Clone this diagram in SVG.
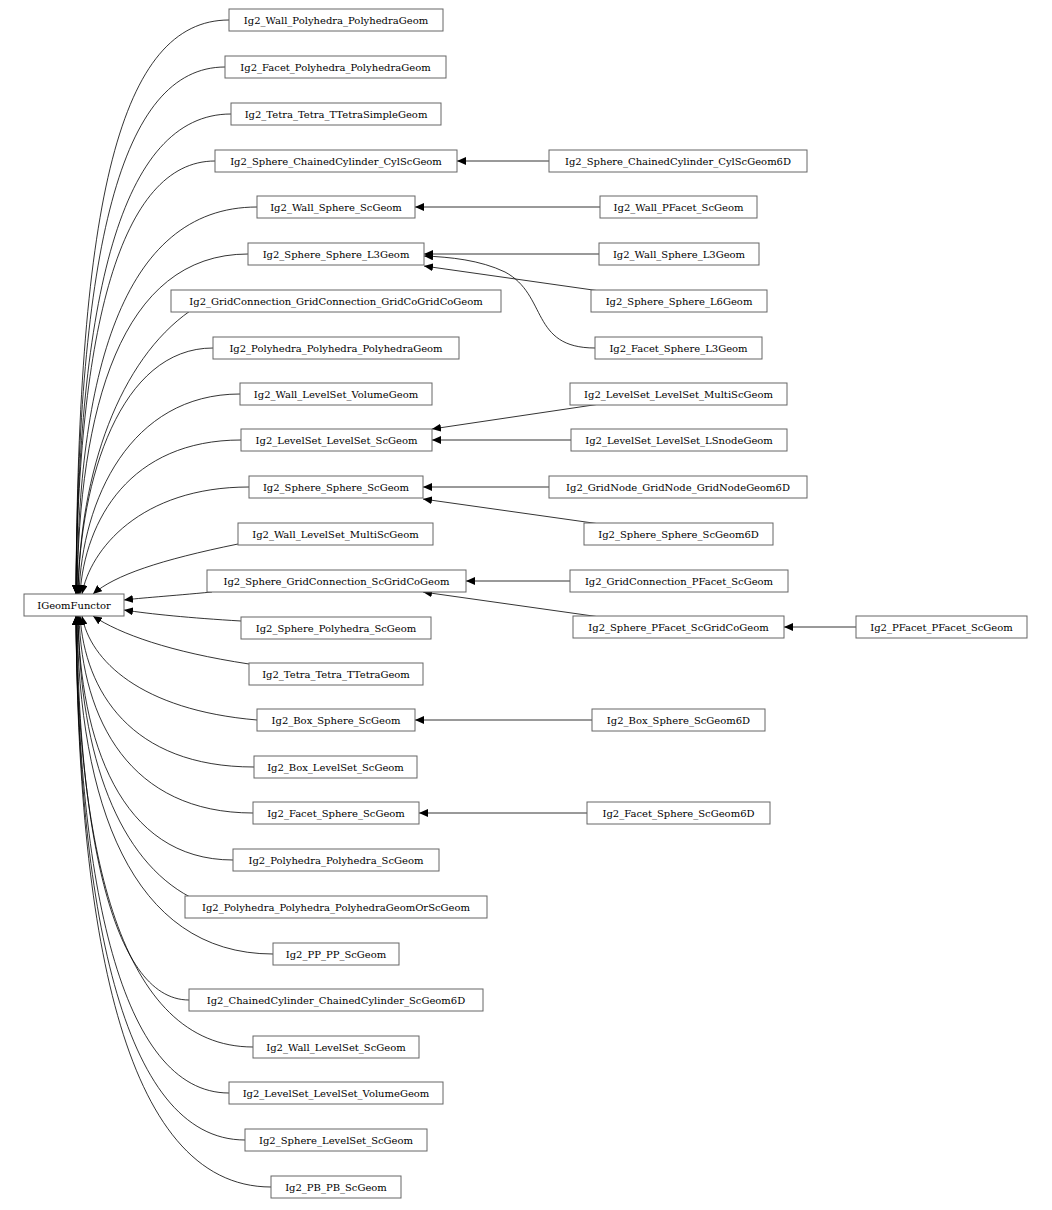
<svg xmlns="http://www.w3.org/2000/svg" width="1052" height="1210" viewBox="0 0 1052 1210">
<style>
.n rect{fill:#fff;stroke:#666;stroke-width:1}
.n text{font-family:"DejaVu Serif",serif;font-size:10px;text-anchor:middle;fill:#000}
#edges path{fill:none;stroke:#000;stroke-width:0.8;marker-end:url(#a)}
</style>
<defs><marker id="a" markerUnits="userSpaceOnUse" markerWidth="10" markerHeight="8" refX="9" refY="4" orient="auto"><path d="M0,0L9,4L0,8z" fill="#000"/></marker></defs>
<rect width="1052" height="1210" fill="#fff"/>
<g id="edges">
<path d="M229,20 C120,20 78,200 76,594"/>
<path d="M225,67 C120,67 78,250 76,594"/>
<path d="M231,114 C120,114 78,300 76,594"/>
<path d="M215,161 C120,161 78,330 76,594"/>
<path d="M257,207 C120,207 78,380 77,594"/>
<path d="M248,254 C120,254 79,410 77,594"/>
<path d="M190,311 C120,360 80,470 78,594"/>
<path d="M213,348 C120,348 80,480 78,594"/>
<path d="M240,394 C130,394 82,500 79,594"/>
<path d="M241,440 C130,440 85,520 80,594"/>
<path d="M249,487 C140,487 90,550 82,594"/>
<path d="M238,544 C160,560 115,575 93,594"/>
<path d="M212,592 C170,596 140,598 124,600"/>
<path d="M241,621 C190,618 150,614 124,610"/>
<path d="M249,664 C170,652 120,634 93,616"/>
<path d="M257,720 C140,710 90,660 82,616"/>
<path d="M254,767 C130,767 85,690 80,616"/>
<path d="M253,813 C130,813 82,720 79,616"/>
<path d="M233,860 C120,860 80,740 78,616"/>
<path d="M190,897 C120,860 80,760 78,616"/>
<path d="M273,954 C130,954 79,800 77,616"/>
<path d="M189,1000 C110,1000 78,820 77,616"/>
<path d="M253,1047 C120,1047 78,850 76,616"/>
<path d="M229,1093 C120,1093 78,880 76,616"/>
<path d="M245,1140 C120,1140 78,900 76,616"/>
<path d="M271,1187 C120,1187 78,920 76,616"/>
<path d="M549,161 L457,161"/>
<path d="M600,207 L415,207"/>
<path d="M599,254 L424,254"/>
<path d="M600,291 L424,266"/>
<path d="M595,348 C530,348 548,295 505,272 C480,260 450,257 424,256"/>
<path d="M600,404 L432,429"/>
<path d="M571,440 L432,440"/>
<path d="M549,487 L423,487"/>
<path d="M600,524 L423,499"/>
<path d="M570,581 L466,581"/>
<path d="M600,617 L423,592"/>
<path d="M856,627 L784,627"/>
<path d="M592,720 L415,720"/>
<path d="M587,813 L419,813"/>
</g>
<g id="IGeomFunctor" class="n"><rect x="24" y="594" width="100" height="22"/><text x="74" y="609">IGeomFunctor</text></g>
<g id="n1" class="n"><rect x="229" y="9" width="214" height="22"/><text x="336" y="24">Ig2_Wall_Polyhedra_PolyhedraGeom</text></g>
<g id="n2" class="n"><rect x="225" y="56" width="221" height="22"/><text x="335.5" y="71">Ig2_Facet_Polyhedra_PolyhedraGeom</text></g>
<g id="n3" class="n"><rect x="231" y="103" width="210" height="22"/><text x="336" y="118">Ig2_Tetra_Tetra_TTetraSimpleGeom</text></g>
<g id="n4" class="n"><rect x="215" y="150" width="242" height="22"/><text x="336" y="165">Ig2_Sphere_ChainedCylinder_CylScGeom</text></g>
<g id="n5" class="n"><rect x="257" y="196" width="158" height="22"/><text x="336" y="211">Ig2_Wall_Sphere_ScGeom</text></g>
<g id="n6" class="n"><rect x="248" y="243" width="176" height="22"/><text x="336" y="258">Ig2_Sphere_Sphere_L3Geom</text></g>
<g id="n7" class="n"><rect x="171" y="290" width="330" height="22"/><text x="336" y="305">Ig2_GridConnection_GridConnection_GridCoGridCoGeom</text></g>
<g id="n8" class="n"><rect x="213" y="337" width="246" height="22"/><text x="336" y="352">Ig2_Polyhedra_Polyhedra_PolyhedraGeom</text></g>
<g id="n9" class="n"><rect x="240" y="383" width="192" height="22"/><text x="336" y="398">Ig2_Wall_LevelSet_VolumeGeom</text></g>
<g id="n10" class="n"><rect x="241" y="429" width="191" height="22"/><text x="336.5" y="444">Ig2_LevelSet_LevelSet_ScGeom</text></g>
<g id="n11" class="n"><rect x="249" y="476" width="174" height="22"/><text x="336" y="491">Ig2_Sphere_Sphere_ScGeom</text></g>
<g id="n12" class="n"><rect x="238" y="523" width="195" height="22"/><text x="335.5" y="538">Ig2_Wall_LevelSet_MultiScGeom</text></g>
<g id="n13" class="n"><rect x="207" y="570" width="259" height="22"/><text x="336.5" y="585">Ig2_Sphere_GridConnection_ScGridCoGeom</text></g>
<g id="n14" class="n"><rect x="241" y="617" width="190" height="22"/><text x="336" y="632">Ig2_Sphere_Polyhedra_ScGeom</text></g>
<g id="n15" class="n"><rect x="249" y="663" width="174" height="22"/><text x="336" y="678">Ig2_Tetra_Tetra_TTetraGeom</text></g>
<g id="n16" class="n"><rect x="257" y="709" width="158" height="22"/><text x="336" y="724">Ig2_Box_Sphere_ScGeom</text></g>
<g id="n17" class="n"><rect x="254" y="756" width="163" height="22"/><text x="335.5" y="771">Ig2_Box_LevelSet_ScGeom</text></g>
<g id="n18" class="n"><rect x="253" y="802" width="166" height="22"/><text x="336" y="817">Ig2_Facet_Sphere_ScGeom</text></g>
<g id="n19" class="n"><rect x="233" y="849" width="206" height="22"/><text x="336" y="864">Ig2_Polyhedra_Polyhedra_ScGeom</text></g>
<g id="n20" class="n"><rect x="185" y="896" width="302" height="22"/><text x="336" y="911">Ig2_Polyhedra_Polyhedra_PolyhedraGeomOrScGeom</text></g>
<g id="n21" class="n"><rect x="273" y="943" width="126" height="22"/><text x="336" y="958">Ig2_PP_PP_ScGeom</text></g>
<g id="n22" class="n"><rect x="189" y="989" width="294" height="22"/><text x="336" y="1004">Ig2_ChainedCylinder_ChainedCylinder_ScGeom6D</text></g>
<g id="n23" class="n"><rect x="253" y="1036" width="166" height="22"/><text x="336" y="1051">Ig2_Wall_LevelSet_ScGeom</text></g>
<g id="n24" class="n"><rect x="229" y="1082" width="214" height="22"/><text x="336" y="1097">Ig2_LevelSet_LevelSet_VolumeGeom</text></g>
<g id="n25" class="n"><rect x="245" y="1129" width="182" height="22"/><text x="336" y="1144">Ig2_Sphere_LevelSet_ScGeom</text></g>
<g id="n26" class="n"><rect x="271" y="1176" width="130" height="22"/><text x="336" y="1191">Ig2_PB_PB_ScGeom</text></g>
<g id="r1" class="n"><rect x="549" y="150" width="258" height="22"/><text x="678" y="165">Ig2_Sphere_ChainedCylinder_CylScGeom6D</text></g>
<g id="r2" class="n"><rect x="600" y="196" width="157" height="22"/><text x="678.5" y="211">Ig2_Wall_PFacet_ScGeom</text></g>
<g id="r3" class="n"><rect x="599" y="243" width="160" height="22"/><text x="679" y="258">Ig2_Wall_Sphere_L3Geom</text></g>
<g id="r4" class="n"><rect x="591" y="290" width="176" height="22"/><text x="679" y="305">Ig2_Sphere_Sphere_L6Geom</text></g>
<g id="r5" class="n"><rect x="595" y="337" width="167" height="22"/><text x="678.5" y="352">Ig2_Facet_Sphere_L3Geom</text></g>
<g id="r6" class="n"><rect x="570" y="383" width="217" height="22"/><text x="678.5" y="398">Ig2_LevelSet_LevelSet_MultiScGeom</text></g>
<g id="r7" class="n"><rect x="571" y="429" width="216" height="22"/><text x="679" y="444">Ig2_LevelSet_LevelSet_LSnodeGeom</text></g>
<g id="r8" class="n"><rect x="549" y="476" width="258" height="22"/><text x="678" y="491">Ig2_GridNode_GridNode_GridNodeGeom6D</text></g>
<g id="r9" class="n"><rect x="584" y="523" width="189" height="22"/><text x="678.5" y="538">Ig2_Sphere_Sphere_ScGeom6D</text></g>
<g id="r10" class="n"><rect x="570" y="570" width="218" height="22"/><text x="679" y="585">Ig2_GridConnection_PFacet_ScGeom</text></g>
<g id="r11" class="n"><rect x="573" y="616" width="211" height="22"/><text x="678.5" y="631">Ig2_Sphere_PFacet_ScGridCoGeom</text></g>
<g id="r12" class="n"><rect x="856" y="616" width="171" height="22"/><text x="941.5" y="631">Ig2_PFacet_PFacet_ScGeom</text></g>
<g id="r13" class="n"><rect x="592" y="709" width="173" height="22"/><text x="678.5" y="724">Ig2_Box_Sphere_ScGeom6D</text></g>
<g id="r14" class="n"><rect x="587" y="802" width="183" height="22"/><text x="678.5" y="817">Ig2_Facet_Sphere_ScGeom6D</text></g>
</svg>
